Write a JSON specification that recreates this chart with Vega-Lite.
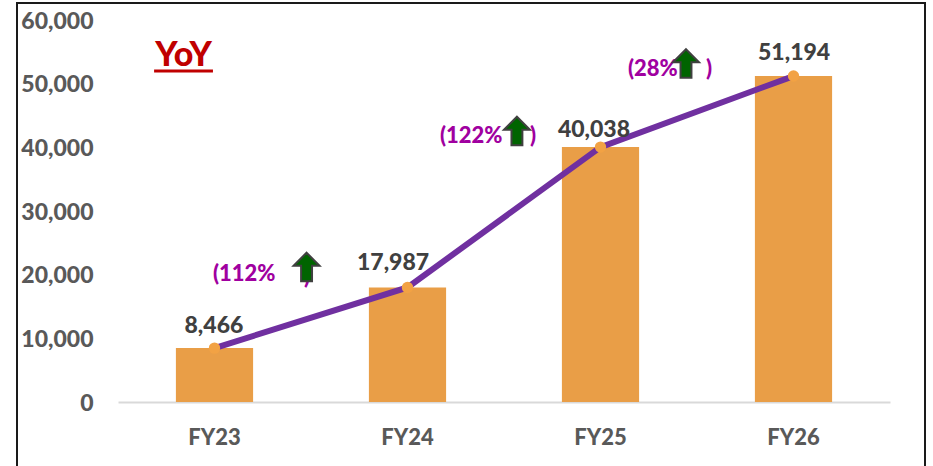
{
"$schema":"https://vega.github.io/schema/vega-lite/v6.json",
"autosize":{"type":"none"},
"padding":{"left":17,"top":3,"right":8,"bottom":0},
"width":908,"height":465,
"background":"white",
"config":{"view":{"stroke":"#1a1a1a","strokeWidth":2},"font":"Lato"},
"datasets":{
"rev":[{"fy":"FY23","v":8466},{"fy":"FY24","v":17987},{"fy":"FY25","v":40038},{"fy":"FY26","v":51194}],
"vals":[{"p":0.497,"y":12000,"t":"8,466"},{"p":1.425,"y":21900,"t":"17,987"},{"p":2.466,"y":42800,"t":"40,038"},{"p":3.503,"y":54750,"t":"51,194"}],
"yoy":[{"p":0.492,"y":20100,"t":"(112%"},{"p":0.964,"y":19700,"t":")"},{"p":1.668,"y":41800,"t":"(122%"},{"p":2.135,"y":41800,"t":")"},{"p":2.642,"y":52300,"t":"(28%"},{"p":3.047,"y":52300,"t":")"}],
"arrows":[{"p":0.977,"y":21204},{"p":2.067,"y":42565},{"p":2.943,"y":53168}],
"title":[{"p":0.34,"y":54300,"t":"YoY","p2":0.492,"p1":0.187,"u":51990}]
},
"resolve":{"scale":{"x":"independent"},"axis":{"x":"independent","y":"independent"}},
"layer":[
{"data":{"name":"rev"},
 "encoding":{
  "x":{"field":"fy","type":"nominal","sort":null,"scale":{"range":[101,873],"paddingInner":0.6,"paddingOuter":0.3},
   "axis":{"title":null,"orient":"bottom","offset":-66,"labelAngle":0,"ticks":false,"grid":false,"domain":true,"domainColor":"#D9D9D9","domainWidth":2,"labelColor":"#595959","labelFont":"Lato","labelFontWeight":900,"labelFontSize":22,"labelPadding":25}},
  "y":{"field":"v","type":"quantitative","scale":{"domain":[0,60000],"range":[399,17],"nice":false,"zero":false},
   "axis":{"title":null,"orient":"left","offset":-76,"values":[0,10000,20000,30000,40000,50000,60000],"labelExpr":"format(datum.value,',')","ticks":false,"grid":false,"domain":false,"labelColor":"#595959","labelFont":"Lato","labelFontWeight":900,"labelFontSize":23,"labelPadding":0,"labelOffset":1,"labelOverlap":false,"labelBound":false}}},
 "layer":[
  {"mark":{"type":"bar","color":"#E99E47"}},
  {"mark":{"type":"line","color":"#7030A0","strokeWidth":6}},
  {"mark":{"type":"point","filled":true,"color":"#F2A244","size":130,"opacity":1}}
 ]},
{"encoding":{"x":{"field":"p","type":"quantitative","scale":{"domain":[0,4],"range":[101,873],"nice":false,"zero":false},"axis":null},
 "y":{"field":"y","type":"quantitative","scale":{"domain":[0,60000],"range":[399,17],"nice":false,"zero":false},"axis":null}},
 "layer":[
  {"data":{"name":"vals"},"mark":{"type":"text","font":"Lato","fontWeight":900,"fontSize":23,"color":"#404040","align":"center","baseline":"middle"},"encoding":{"text":{"field":"t"}}},
  {"data":{"name":"yoy"},"mark":{"type":"text","font":"Lato","fontWeight":900,"fontSize":22,"color":"#A000A0","align":"left","baseline":"middle"},"encoding":{"text":{"field":"t"}}},
  {"data":{"name":"arrows"},"mark":{"type":"point","filled":true,"fill":"#006400","stroke":"#404040","strokeWidth":2,"opacity":1,"size":676,"shape":"M0,-1.1 L1,-0.1 L0.42,-0.1 L0.42,1.1 L-0.42,1.1 L-0.42,-0.1 L-1,-0.1 Z"}},
  {"data":{"name":"title"},"mark":{"type":"text","font":"Lato","fontWeight":900,"fontSize":34,"color":"#C00000","align":"center","baseline":"middle"},"encoding":{"text":{"field":"t"}}},
  {"data":{"name":"title"},"mark":{"type":"rule","color":"#C00000","strokeWidth":3},"encoding":{"x":{"field":"p1","type":"quantitative","scale":{"domain":[0,4],"range":[101,873],"nice":false,"zero":false},"axis":null},"x2":{"field":"p2"},"y":{"field":"u","type":"quantitative","scale":{"domain":[0,60000],"range":[399,17],"nice":false,"zero":false},"axis":null}}}
 ]}
]
}
